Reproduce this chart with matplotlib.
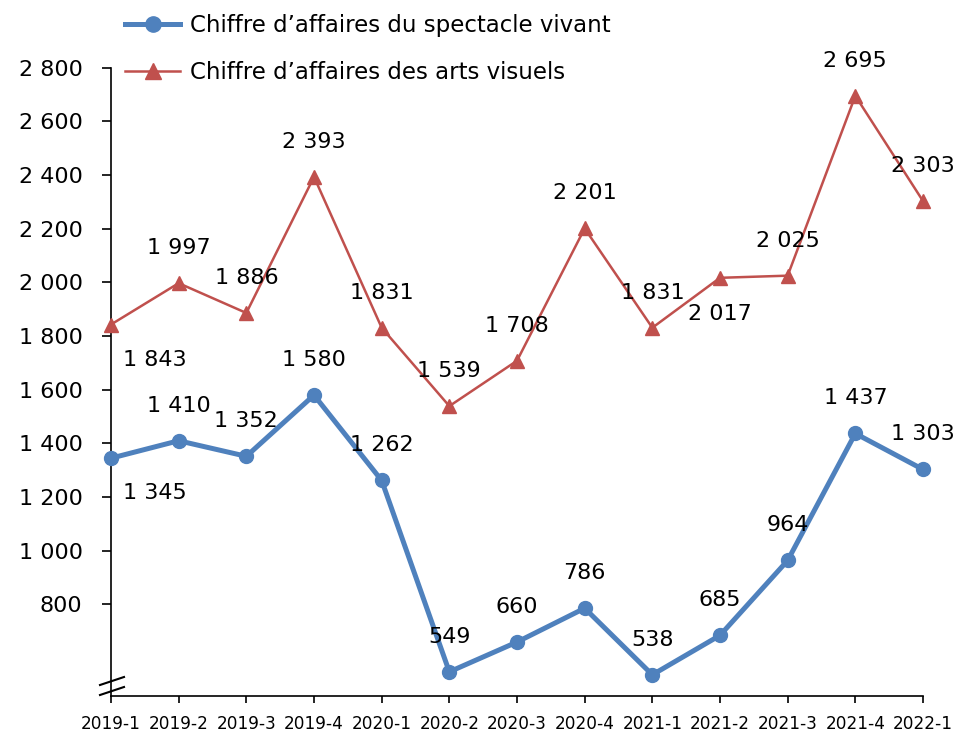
import matplotlib
matplotlib.use("Agg")
import matplotlib.pyplot as plt

# trimestres
trimestres = ['2019-1', '2019-2', '2019-3', '2019-4', '2020-1', '2020-2', '2020-3',
              '2020-4', '2021-1', '2021-2', '2021-3', '2021-4', '2022-1']
# chiffre d'affaires (indices)
spectacle = [1345, 1410, 1352, 1580, 1262, 549, 660, 786, 538, 685, 964, 1437, 1303]
arts = [1843, 1997, 1886, 2393, 1831, 1539, 1708, 2201, 1831, 2017, 2025, 2695, 2303]
yticks = [800, 1000, 1200, 1400, 1600, 1800, 2000, 2200, 2400, 2600, 2800]

bleu = '#4F81BD'
rouge = '#C0504D'

def fmt(v):
    return f"{v:,}".replace(",", " ")

fig = plt.figure(figsize=(9.75, 7.49), dpi=100)
ax = fig.add_axes([111 / 975, 1 - 696 / 749, (923 - 111) / 975, 696 / 749])

x = list(range(len(trimestres)))
ax.plot(x, spectacle, color=bleu, lw=3.6, marker='o', ms=10, clip_on=False,
        label="Chiffre d\u2019affaires du spectacle vivant", zorder=3)
ax.plot(x, arts, color=rouge, lw=1.8, marker='^', ms=10, clip_on=False,
        label="Chiffre d\u2019affaires des arts visuels", zorder=3)

# etiquettes de donnees (au-dessus sauf exceptions)
for i, v in enumerate(spectacle):
    dx, dy = (44, -35) if i == 0 else (0, 35)
    ax.annotate(fmt(v), (i, v), xytext=(dx * 0.72, dy * 0.72), textcoords='offset points',
                ha='center', va='center', fontsize=16)
for i, v in enumerate(arts):
    if i == 0:
        dx, dy = 44, -35
    elif i == 9:
        dx, dy = 0, -36
    else:
        dx, dy = 0, 35
    ax.annotate(fmt(v), (i, v), xytext=(dx * 0.72, dy * 0.72), textcoords='offset points',
                ha='center', va='center', fontsize=16)

ax.set_xlim(0, len(trimestres) - 1)
ax.set_ylim(459, 3052)
ax.set_xticks(x)
ax.set_xticklabels(trimestres, fontsize=12.2)
ax.set_yticks(yticks)
ax.set_yticklabels([fmt(t) for t in yticks], fontsize=16)
ax.tick_params(axis='y', length=6.5, width=1.2, pad=14)
ax.tick_params(axis='x', length=5, width=1.2, pad=9)

for s in ['top', 'right']:
    ax.spines[s].set_visible(False)
ax.spines['left'].set_bounds(459, 2800)
ax.spines['left'].set_linewidth(1.2)
ax.spines['bottom'].set_linewidth(1.2)

# coupure de l'axe
for y0 in (685, 695):
    ax.plot([100 / 975, 124 / 975], [1 - y0 / 749, 1 - (y0 - 8) / 749], color='black',
            lw=1.5, transform=fig.transFigure, clip_on=False)

ax.legend(loc='upper left', bbox_to_anchor=(125 / 975, 1 - 14 / 749),
          bbox_transform=fig.transFigure, frameon=False, fontsize=16.5,
          handlelength=2.4, handletextpad=0.45, labelspacing=1.04, borderpad=0,
          borderaxespad=0, markerscale=1.1)

fig.savefig('out.png', dpi=100)
